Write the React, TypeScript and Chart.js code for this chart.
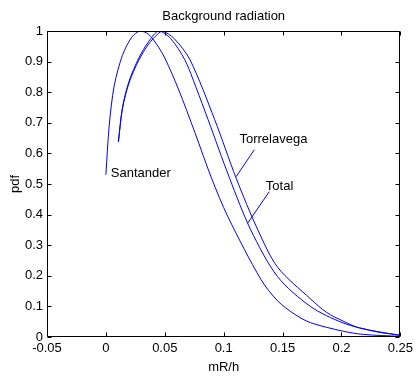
import React, { useEffect, useRef } from "react";
import { Chart, registerables } from "chart.js";

Chart.register(...registerables);

// ---- data ----
const santanderX = [0, 0.0028, 0.007, 0.014, 0.022, 0.029, 0.036, 0.0434, 0.05, 0.0616, 0.0756, 0.0896, 0.1036, 0.1316, 0.1458, 0.16, 0.1736, 0.2014, 0.2185, 0.25];
const santanderY = [0.53, 0.69, 0.82, 0.92, 0.98, 1.0, 0.99, 0.955, 0.912, 0.81, 0.668, 0.52, 0.393, 0.188, 0.118, 0.075, 0.047, 0.019, 0.0085, 0.002];

const totalX = [0.0106, 0.014, 0.0196, 0.028, 0.0364, 0.045, 0.055, 0.067, 0.0766, 0.0868, 0.105, 0.123, 0.1458, 0.1736, 0.2014, 0.2297, 0.25];
const totalY = [0.637, 0.748, 0.835, 0.912, 0.966, 1.0, 0.975, 0.906, 0.815, 0.71, 0.519, 0.35, 0.197, 0.1, 0.046, 0.017, 0.006];

const torrelavegaX = [0.0106, 0.014, 0.0196, 0.028, 0.0364, 0.044, 0.048, 0.058, 0.0714, 0.0924, 0.1106, 0.129, 0.1458, 0.1736, 0.1875, 0.2014, 0.215, 0.25];
const torrelavegaY = [0.637, 0.745, 0.83, 0.905, 0.958, 0.99, 1.0, 0.975, 0.906, 0.71, 0.519, 0.35, 0.228, 0.125, 0.08, 0.052, 0.03, 0.005];

const xTickValues = [-0.05, 0, 0.05, 0.1, 0.15, 0.2, 0.25];
const xTickLabels = ["-0.05", "0", "0.05", "0.1", "0.15", "0.2", "0.25"];
const yTickValues = [0, 0.1, 0.2, 0.3, 0.4, 0.5, 0.6, 0.7, 0.8, 0.9, 1];
const yTickLabels = ["0", "0.1", "0.2", "0.3", "0.4", "0.5", "0.6", "0.7", "0.8", "0.9", "1"];

const chartTitle = "Background radiation";
const xTitle = "mR/h";
const yTitle = "pdf";

// annotation labels: text, x, y in data coords (text left / baseline)
const labelTexts = ["Santander", "Torrelavega", "Total"];
const labelX = [0.0042, 0.1134, 0.1358];
const labelY = [0.523, 0.635, 0.481];
// pointer lines: from (x1,y1) to (x2,y2), null for none
const pointerFrom = [null, [0.126, 0.612], [0.1387, 0.475]] as (number[] | null)[];
const pointerTo = [null, [0.1106, 0.524], [0.1204, 0.372]] as (number[] | null)[];

const FONT = "'Liberation Sans', Arial, Helvetica, sans-serif";
const BLUE = "#0000ff";

const zip = (xs: number[], ys: number[]) => xs.map((x, i) => ({ x, y: ys[i] }));

const framePlugin = {
  id: "matlabFrame",
  afterDraw(chart: any) {
    const { ctx, chartArea: a, scales } = chart;
    const xs = scales.x;
    const ys = scales.y;
    ctx.save();
    ctx.strokeStyle = "#000";
    ctx.lineWidth = 1;
    const L = Math.round(a.left) + 0.5;
    const T = Math.round(a.top) + 0.5;
    const R = Math.round(a.right) - 0.5;
    const B = Math.round(a.bottom) - 0.5;
    ctx.beginPath();
    ctx.rect(L, T, R - L, B - T);
    ctx.stroke();
    const tl = 4;
    ctx.beginPath();
    for (const v of xTickValues) {
      const px = Math.round(xs.getPixelForValue(v)) + 0.5;
      ctx.moveTo(px, B);
      ctx.lineTo(px, B - tl);
      ctx.moveTo(px, T);
      ctx.lineTo(px, T + tl);
    }
    for (const v of yTickValues) {
      const py = Math.round(ys.getPixelForValue(v)) + 0.5;
      ctx.moveTo(L, py);
      ctx.lineTo(L + tl, py);
      ctx.moveTo(R, py);
      ctx.lineTo(R - tl, py);
    }
    ctx.stroke();

    // title
    ctx.fillStyle = "#000";
    ctx.font = `13px ${FONT}`;
    ctx.textAlign = "center";
    ctx.textBaseline = "alphabetic";
    ctx.fillText(chartTitle, (a.left + a.right) / 2, 19.5);

    // annotations
    ctx.textAlign = "left";
    labelTexts.forEach((t, i) => {
      ctx.fillText(t, xs.getPixelForValue(labelX[i]), ys.getPixelForValue(labelY[i]));
      const f = pointerFrom[i];
      const to = pointerTo[i];
      if (f && to) {
        ctx.strokeStyle = BLUE;
        ctx.beginPath();
        ctx.moveTo(xs.getPixelForValue(f[0]), ys.getPixelForValue(f[1]));
        ctx.lineTo(xs.getPixelForValue(to[0]), ys.getPixelForValue(to[1]));
        ctx.stroke();
      }
    });
    ctx.restore();
  },
};

export default function App() {
  const ref = useRef<HTMLCanvasElement | null>(null);
  useEffect(() => {
    if (!ref.current) return;
    const mk = (label: string, xs: number[], ys: number[]) => ({
      label,
      data: zip(xs, ys),
      borderColor: BLUE,
      backgroundColor: BLUE,
      borderWidth: 1,
      pointRadius: 0,
      fill: false,
      tension: 0.3,
    });
    const chart = new Chart(ref.current, {
      type: "line",
      data: {
        datasets: [
          mk("Santander", santanderX, santanderY),
          mk("Torrelavega", torrelavegaX, torrelavegaY),
          mk("Total", totalX, totalY),
        ],
      },
      options: {
        animation: false,
        responsive: false,
        devicePixelRatio: 1,
        layout: { padding: { left: 0, top: 31, right: 12, bottom: 0 } },
        plugins: { legend: { display: false }, tooltip: { enabled: false }, title: { display: false } },
        scales: {
          x: {
            type: "linear",
            min: -0.05,
            max: 0.25,
            afterBuildTicks: (s: any) => {
              s.ticks = xTickValues.map((v) => ({ value: v }));
            },
            afterFit: (s: any) => {
              s.height = 41;
            },
            grid: { display: false, drawTicks: false },
            border: { display: false },
            ticks: {
              padding: 4,
              color: "#000",
              font: { family: FONT, size: 13 },
              maxRotation: 0,
              autoSkip: false,
              callback: (_v: any, i: number) => xTickLabels[i],
            },
            title: {
              display: true,
              text: xTitle,
              color: "#000",
              font: { family: FONT, size: 13 },
              padding: { top: 0, bottom: 3 },
            },
          },
          y: {
            type: "linear",
            min: 0,
            max: 1,
            afterBuildTicks: (s: any) => {
              s.ticks = yTickValues.map((v) => ({ value: v }));
            },
            afterFit: (s: any) => {
              s.width = 47;
            },
            grid: { display: false, drawTicks: false },
            border: { display: false },
            ticks: {
              padding: 4,
              color: "#000",
              font: { family: FONT, size: 13 },
              autoSkip: false,
              callback: (_v: any, i: number) => yTickLabels[i],
            },
            title: {
              display: true,
              text: yTitle,
              color: "#000",
              font: { family: FONT, size: 13 },
              padding: { top: 8, bottom: 0 },
            },
          },
        },
      },
      plugins: [framePlugin],
    });
    return () => chart.destroy();
  }, []);
  return (
    <div style={{ position: "fixed", left: 0, top: 0, width: 417, height: 378, background: "#fff" }}>
      <canvas ref={ref} width={417} height={378} style={{ display: "block" }} />
    </div>
  );
}
